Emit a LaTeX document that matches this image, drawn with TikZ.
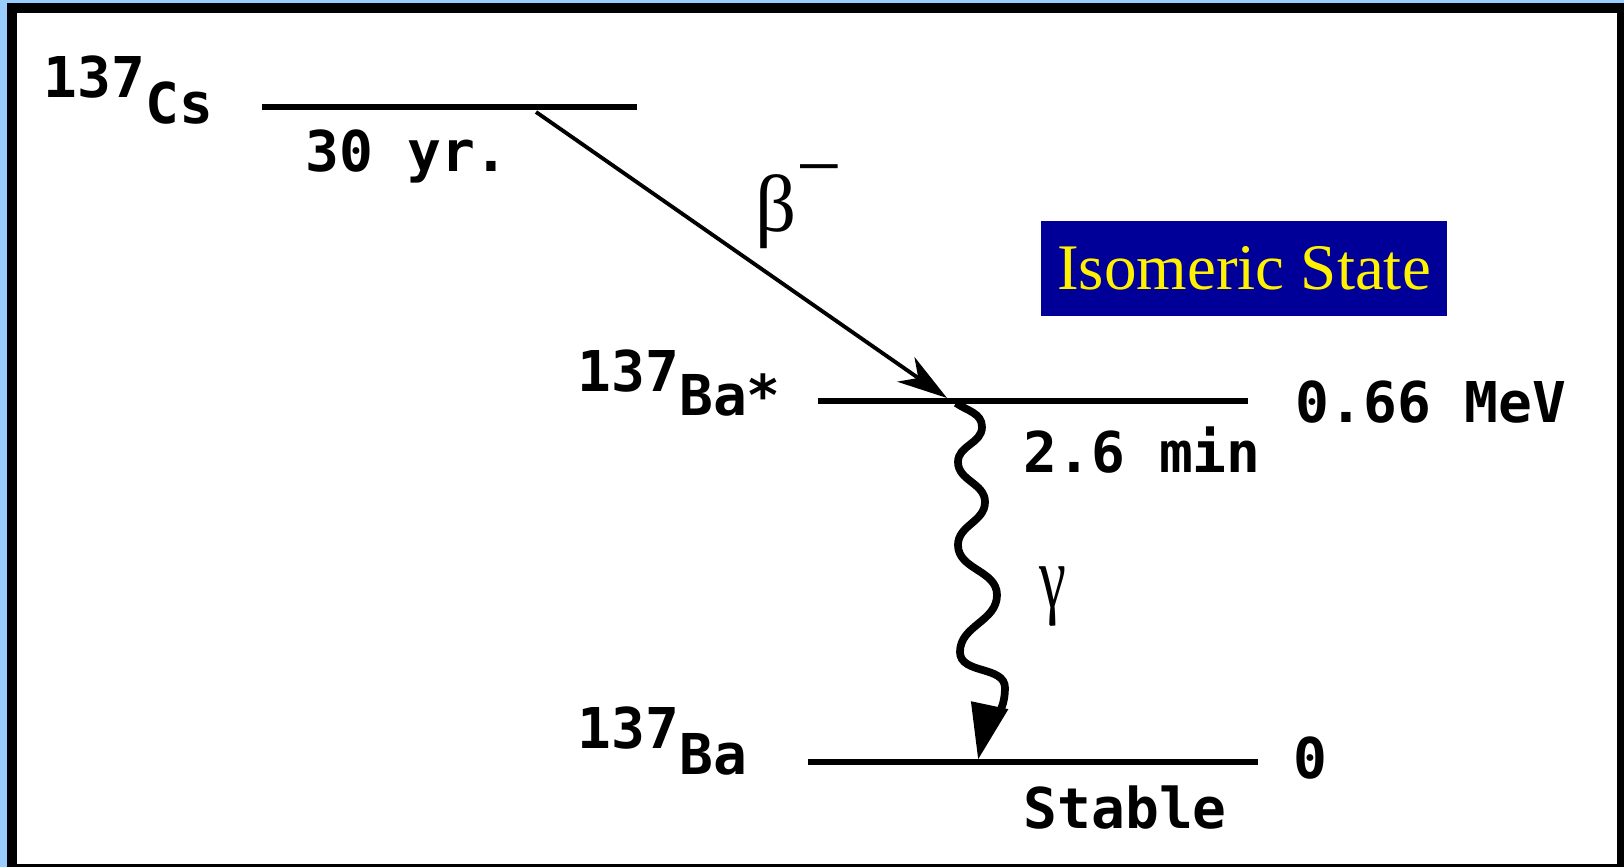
\documentclass[tikz,border=0pt]{standalone}
\usepackage{fontspec}
\setmainfont{Liberation Serif}
\newfontfamily\monofont{DejaVu Sans Mono}
\usepackage{xcolor}
\usepackage{tikz}
\usetikzlibrary{arrows.meta, positioning, calc}

\definecolor{skyblue}{RGB}{153,204,255}
\definecolor{isoblue}{RGB}{0,0,153}

\begin{document}
\begin{tikzpicture}[
    level/.style={line width=1.5pt},
    lbl/.style={font=\monofont\bfseries\fontsize{16pt}{18pt}\selectfont, anchor=base west, inner sep=0pt},
    greek/.style={font=\fontsize{23pt}{26pt}\selectfont, anchor=base west, inner sep=0pt},
    arrow/.style={line width=1.1pt, -{Stealth[length=0.5cm, width=0.3cm, inset=0.15cm]}},
    wave/.style={line width=2.2pt, -{Triangle[length=0.56cm, width=0.36cm]}}
]
\useasboundingbox (0,0) rectangle (16.24,8.67);
% frame
\fill[skyblue] (0,0) rectangle (16.24,8.67);
\fill[black] (0.07,0) rectangle (16.24,8.64);
\fill[white] (0.17,0.03) rectangle (16.17,8.54);

% energy levels
\coordinate (cs-l)  at (2.62,7.60);
\coordinate (cs-r)  at (6.37,7.60);
\coordinate (bas-l) at (8.18,4.66);
\coordinate (bas-r) at (12.48,4.66);
\coordinate (ba-l)  at (8.08,1.05);
\coordinate (ba-r)  at (12.58,1.05);
\draw[level] (cs-l) -- (cs-r);
\draw[level] (bas-l) -- (bas-r);
\draw[level] (ba-l) -- (ba-r);

% labels
\node[lbl] (cs)      at (0.43,7.43) {\raisebox{0.26cm}{137}Cs};
\node[lbl] (cs-t)    at (3.05,6.95) {30 yr.};
\node[lbl] (bas)     at (5.77,4.51) {\raisebox{0.24cm}{137}Ba*};
\node[lbl] (bas-e)   at (12.95,4.44) {0.66 MeV};
\node[lbl] (bas-t)   at (10.23,3.94) {2.6 min};
\node[lbl] (ba)      at (5.77,0.92) {\raisebox{0.26cm}{137}Ba};
\node[lbl] (ba-e)    at (12.93,0.88) {0};
\node[lbl] (ba-t)    at (10.23,0.38) {Stable};
\node[fill=isoblue, text=yellow, font=\fontsize{18.5pt}{20pt}\selectfont,
      minimum width=4.06cm, minimum height=0.95cm, inner sep=0pt] (iso) at (12.44,5.985) {Isomeric State};

% beta decay
\coordinate (beta-s) at (5.36,7.55);
\coordinate (beta-e) at (9.47,4.69);
\draw[arrow] (beta-s) -- (beta-e);
\node[greek] (beta) at (7.55,6.35) {β\raisebox{0.38cm}{−}};

% gamma decay
\coordinate (gam-s) at (9.56,4.64);
\coordinate (gam-e) at (9.78,1.07);
\draw[wave] (gam-s) to[out=-35,in=90] ++(0.26,-0.24)
  to[out=-90,in=90] ++(-0.24,-0.35)
  to[out=-90,in=90] ++(0.27,-0.40)
  to[out=-90,in=90] ++(-0.27,-0.43)
  to[out=-90,in=90] ++(0.39,-0.50)
  to[out=-90,in=90] ++(-0.37,-0.57)
  to[out=-90,in=90] ++(0.45,-0.36)
  to[out=-90,in=78] (gam-e);
\node[greek] (gamma) at (10.39,2.59) {\scalebox{0.75}[1.1]{γ}};
\end{tikzpicture}
\end{document}
